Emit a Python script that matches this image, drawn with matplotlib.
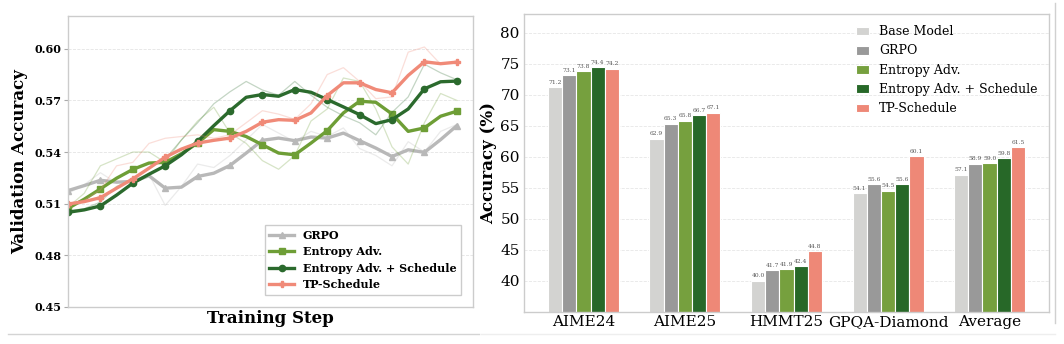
import numpy as np
import matplotlib
matplotlib.use('Agg')
import matplotlib.pyplot as plt
from matplotlib.lines import Line2D

plt.rcParams['font.family'] = 'DejaVu Serif'

# ---- left panel: validation accuracy over training ----
steps = list(range(25))

grpo_raw = [0.516, 0.521, 0.528, 0.522, 0.524, 0.527, 0.509, 0.520, 0.533, 0.531, 0.538, 0.547, 0.556,
            0.551, 0.546, 0.552, 0.549, 0.554, 0.542, 0.538, 0.532, 0.546, 0.540, 0.552, 0.556]
grpo_smooth = [0.5176, 0.5205, 0.5236, 0.5225, 0.5229, 0.5262, 0.5190, 0.5196, 0.5258, 0.5277, 0.5322,
               0.5394, 0.5468, 0.5481, 0.5466, 0.5487, 0.5481, 0.5510, 0.5466, 0.5423, 0.5374, 0.5413,
               0.5398, 0.5472, 0.5553]

ent_raw = [0.508, 0.516, 0.532, 0.536, 0.540, 0.540, 0.534, 0.547, 0.558, 0.566, 0.551, 0.545, 0.535,
           0.530, 0.538, 0.558, 0.565, 0.583, 0.581, 0.565, 0.543, 0.533, 0.557, 0.574, 0.570]
ent_smooth = [0.5073, 0.5126, 0.5186, 0.5248, 0.5299, 0.5336, 0.5340, 0.5390, 0.5452, 0.5530, 0.5520,
              0.5490, 0.5442, 0.5394, 0.5384, 0.5452, 0.5524, 0.5627, 0.5695, 0.5689, 0.5621, 0.5520,
              0.5540, 0.5608, 0.5637]

sched_raw = [0.506, 0.507, 0.511, 0.520, 0.524, 0.531, 0.536, 0.547, 0.557, 0.568, 0.575, 0.581, 0.576,
             0.573, 0.581, 0.573, 0.566, 0.561, 0.557, 0.550, 0.563, 0.572, 0.591, 0.586, 0.582]
sched_smooth = [0.5050, 0.5064, 0.5087, 0.5150, 0.5219, 0.5271, 0.5320, 0.5384, 0.5462, 0.5553, 0.5640,
                0.5718, 0.5734, 0.5724, 0.5763, 0.5747, 0.5705, 0.5662, 0.5617, 0.5565, 0.5588, 0.5650,
                0.5767, 0.5808, 0.5812]

tp_raw = [0.510, 0.512, 0.518, 0.532, 0.534, 0.545, 0.548, 0.549, 0.550, 0.548, 0.550, 0.557, 0.564,
          0.562, 0.559, 0.568, 0.585, 0.589, 0.581, 0.571, 0.572, 0.598, 0.601, 0.591, 0.592]
tp_smooth = [0.5098, 0.5112, 0.5135, 0.5190, 0.5244, 0.5306, 0.5370, 0.5417, 0.5452, 0.5468, 0.5481,
             0.5520, 0.5573, 0.5588, 0.5584, 0.5627, 0.5728, 0.5802, 0.5802, 0.5763, 0.5744, 0.5845,
             0.5924, 0.5913, 0.5922]

line_names = ['GRPO', 'Entropy Adv.', 'Entropy Adv. + Schedule', 'TP-Schedule']
line_colors = ['#b8b8b8', '#6e9e36', '#2b6a2d', '#f08a78']
line_markers = ['^', 's', 'o', 'P']
raw_series = [grpo_raw, ent_raw, sched_raw, tp_raw]
smooth_series = [grpo_smooth, ent_smooth, sched_smooth, tp_smooth]

# ---- right panel: benchmark accuracy ----
benchmarks = ['AIME24', 'AIME25', 'HMMT25', 'GPQA-Diamond', 'Average']
methods = ['Base Model', 'GRPO', 'Entropy Adv.', 'Entropy Adv. + Schedule', 'TP-Schedule']
base_model = [71.2, 62.9, 40.0, 54.1, 57.1]
grpo = [73.1, 65.3, 41.7, 55.6, 58.9]
entropy_adv = [73.8, 65.8, 41.9, 54.5, 59.0]
entropy_sched = [74.4, 66.7, 42.4, 55.6, 59.8]
tp_schedule = [74.2, 67.1, 44.8, 60.1, 61.5]
bar_series = [base_model, grpo, entropy_adv, entropy_sched, tp_schedule]
bar_colors = ['#d3d3d1', '#999999', '#76a03e', '#276828', '#ee8877']

fig = plt.figure(figsize=(10.64, 3.44), dpi=100)
ax1 = fig.add_axes([68/1064, 1-307/344, 405/1064, 291/344])
ax2 = fig.add_axes([524/1064, 1-312/344, 525/1064, 298/344])

# left
for raw, sm, c, m, name in zip(raw_series, smooth_series, line_colors, line_markers, line_names):
    ax1.plot(steps, raw, color=c, lw=0.9, alpha=0.28)
    ax1.plot(steps, sm, color=c, lw=2.4, marker=m, markersize=4.5, markevery=2, label=name)
ax1.set_xlim(0, 25)
ax1.set_ylim(0.45, 0.619)
ax1.set_yticks([0.45, 0.48, 0.51, 0.54, 0.57, 0.60])
ax1.set_yticklabels(['0.45', '0.48', '0.51', '0.54', '0.57', '0.60'], fontweight='bold', fontsize=8)
ax1.set_xticks([])
ax1.grid(axis='y', ls='--', color='#dddddd', lw=0.6, alpha=0.8)
ax1.set_ylabel('Validation Accuracy', fontsize=12, fontweight='bold', labelpad=4)
ax1.set_xlabel('Training Step', fontsize=12, fontweight='bold', labelpad=2)
ax1.tick_params(axis='y', length=3, color='#aaaaaa', pad=2)
for s in ax1.spines.values():
    s.set_color('#cccccc')
    s.set_linewidth(1.0)
ax1.legend(loc='lower right', prop={'weight': 'bold', 'size': 8}, fancybox=False,
           edgecolor='#cccccc', framealpha=1, borderaxespad=1.1, handlelength=2.2)

# right
x = np.arange(len(benchmarks))
w = 0.14
for i, (vals, c, name) in enumerate(zip(bar_series, bar_colors, methods)):
    pos = x + (i - 2) * w
    bars = ax2.bar(pos, vals, w, color=c, edgecolor='white', linewidth=0.8, label=name)
    for b, v in zip(bars, vals):
        ax2.text(b.get_x() + b.get_width()/2, v + 0.4, f'{v:.1f}', ha='center', va='bottom',
                 fontsize=4.3, color='#555555')
ax2.set_ylim(35, 83)
ax2.set_yticks([40, 45, 50, 55, 60, 65, 70, 75, 80])
ax2.set_xticks(x)
ax2.set_xticklabels(benchmarks, fontsize=11)
ax2.tick_params(axis='y', labelsize=11, length=0, pad=3)
ax2.tick_params(axis='x', length=0, pad=2)
ax2.set_ylabel('Accuracy (%)', fontsize=12, fontweight='bold', labelpad=2)
ax2.grid(axis='y', ls='--', color='#e6e6e6', lw=0.6)
ax2.set_axisbelow(True)
for s in ax2.spines.values():
    s.set_color('#cccccc')
    s.set_linewidth(1.0)
ax2.legend(loc='upper right', frameon=False, fontsize=9, handlelength=1.1)

# panel border remnants
fig.add_artist(Line2D([8/1064, 479/1064], [1-334/344, 1-334/344], color='#d4d4d4', lw=1))
fig.add_artist(Line2D([481/1064, 1055/1064], [1-334/344, 1-334/344], color='#eeeeee', lw=1))
fig.add_artist(Line2D([1055/1064, 1055/1064], [1-3/344, 1-323/344], color='#d0d0d0', lw=1))

fig.savefig('out.png', dpi=100)
